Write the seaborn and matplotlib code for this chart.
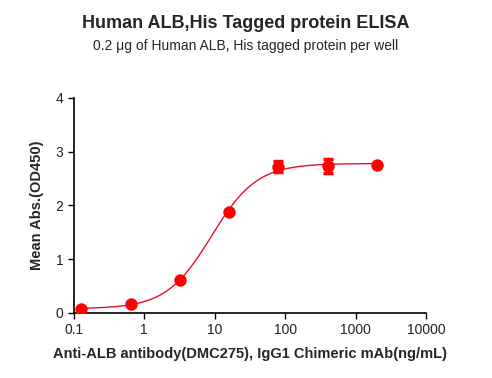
import numpy as np
import pandas as pd
import matplotlib
matplotlib.use("Agg")
import matplotlib.pyplot as plt
import seaborn as sns

conc = [0.128, 0.64, 3.2, 16, 80, 400, 2000]
od = [0.08, 0.17, 0.62, 1.87, 2.72, 2.74, 2.76]
err = [0.0, 0.0, 0.0, 0.0, 0.10, 0.13, 0.0]
# 4PL fit parameters (bottom, top, EC50, hill)
fit_bottom, fit_top, fit_ec50, fit_hill = 0.08, 2.78, 9.0, 1.35
xticks = [0.1, 1, 10, 100, 1000, 10000]
xticklabels = ["0.1", "1", "10", "100", "1000", "10000"]
yticks = [0, 1, 2, 3, 4]

sns.set_style("ticks")
plt.rcParams['font.family'] = ['Liberation Sans', 'DejaVu Sans']

fig = plt.figure(figsize=(4.92, 3.78), dpi=100)
ax = fig.add_axes([0.150, 0.172, 0.716, 0.569])

xs = np.logspace(np.log10(conc[0]), np.log10(conc[-1]), 300)
ys = fit_bottom + (fit_top - fit_bottom) / (1 + (fit_ec50 / xs) ** fit_hill)
curve = pd.DataFrame({"x": xs, "y": ys})
pts = pd.DataFrame({"x": conc, "y": od, "e": err})
eb = pts[pts["e"] > 0]

sns.lineplot(data=curve, x="x", y="y", ax=ax, color="#e8102a", lw=1.0)
ax.errorbar(eb["x"], eb["y"], yerr=eb["e"], fmt="none", ecolor="red",
            elinewidth=1.5, capsize=3.5, capthick=2.5, zorder=3)
sns.scatterplot(data=pts, x="x", y="y", ax=ax, color="red", s=80,
                edgecolor="red", linewidth=0, zorder=4)

ax.set_xscale("log")
ax.set_xlim(0.1, 10000)
ax.set_ylim(0, 4)
ax.set_xticks(xticks)
ax.set_xticklabels(xticklabels)
ax.minorticks_off()
ax.set_yticks(yticks)
ax.tick_params(axis="both", labelsize=10, length=4, width=1, color="black", labelcolor="#222222")
for s in ["left", "bottom"]:
    ax.spines[s].set_linewidth(1.2)
    ax.spines[s].set_color("black")
sns.despine(ax=ax)

ax.set_xlabel("Anti-ALB antibody(DMC275), IgG1 Chimeric mAb(ng/mL)", fontsize=10.5,
              fontweight="bold", labelpad=7)
ax.set_ylabel("Mean Abs.(OD450)", fontsize=10.5, fontweight="bold", labelpad=8)

fig.text(0.5, 0.938, "Human ALB,His Tagged protein ELISA", ha="center", va="center",
         fontsize=13, fontweight="bold")
fig.text(0.5, 0.878, "0.2 \u03bcg of Human ALB, His tagged protein per well", ha="center",
         va="center", fontsize=10)

fig.savefig("out.png", dpi=100)
